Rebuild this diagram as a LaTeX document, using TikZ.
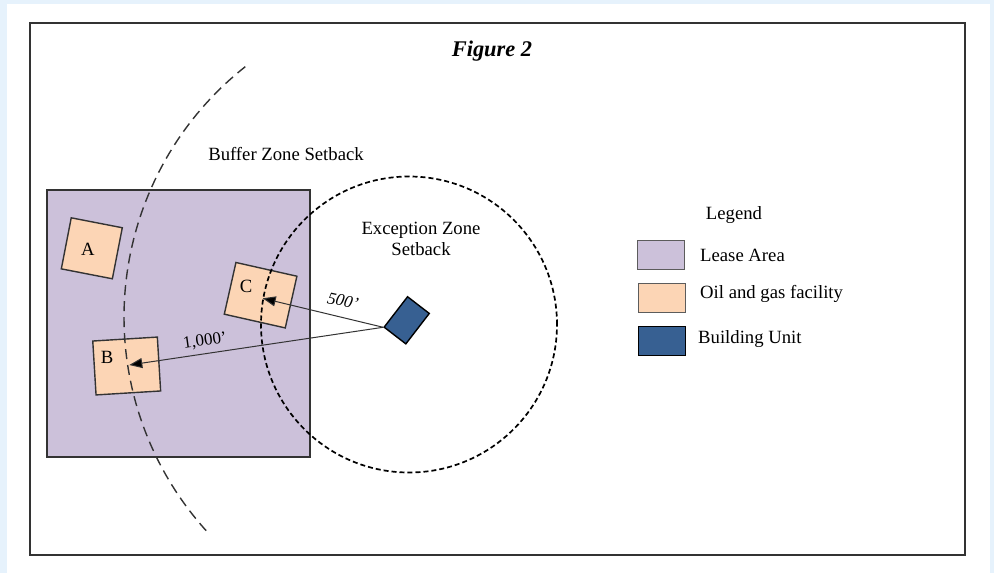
\documentclass[tikz,border=0pt]{standalone}
\usepackage{fontspec}
\setmainfont{Liberation Serif}
\usetikzlibrary{arrows.meta}
\definecolor{bgblue}{HTML}{E6F2FC}
\definecolor{leasec}{HTML}{CCC1DA}
\definecolor{facc}{HTML}{FCD5B5}
\definecolor{bldc}{HTML}{376092}
\definecolor{linec}{HTML}{333333}
\tikzset{
  txt/.style={font=\fontsize{18.7}{20.5}\selectfont, inner sep=0pt, text=black},
  facility/.style={draw=linec, line width=1.4pt, fill=facc, inner sep=0pt},
  swatch/.style={draw=linec!80, line width=1.3pt, inner sep=0pt, minimum width=47pt, minimum height=29pt},
  distarrow/.style={draw=linec, line width=1pt, -{Triangle[length=13pt,width=10pt,fill=black]}},
}
\begin{document}
\begin{tikzpicture}[x=1pt,y=-1pt]
\useasboundingbox (0,0) rectangle (994,573);
% background
\fill[bgblue] (0,0) rectangle (994,573);
\fill[white] (7,4) rectangle (990,573);
% frame
\draw[line width=1.3pt, draw=linec] (30,23) rectangle (965,555);
\node[font=\fontsize{22.4}{24}\selectfont\bfseries\itshape, inner sep=0pt] (title) at (492,51) {Figure 2};
% lease area
\node[draw=linec, line width=1.2pt, fill=leasec, minimum width=263pt, minimum height=267pt, inner sep=0pt] (lease) at (178.5,323.5) {};
% facilities
\node[facility, minimum width=52pt, minimum height=52pt, rotate=-11] (A) at (91.8,248.3) {};
\node[facility, minimum width=64.7pt, minimum height=54pt, rotate=3.5] (B) at (126.7,366) {};
\node[facility, minimum width=62.5pt, minimum height=53pt, rotate=-12.7] (C) at (260.6,295.2) {};
\node[txt] (Alab) at (88,249) {A};
\node[txt] (Blab) at (107,357) {B};
\node[txt] (Clab) at (246,286) {C};
% building unit
\node[draw=black, line width=1.4pt, fill=bldc, minimum width=27.4pt, minimum height=38.4pt, inner sep=0pt, rotate=-37.6] (bu) at (406.7,320.3) {};
% buffer zone arc
\draw[line width=1.4pt, draw=linec, dash pattern=on 10pt off 6pt] ([shift={(-128.3:319)}]443,317) arc[start angle=-128.3, end angle=-222.5, radius=319];
% exception zone circle
\node[draw=black, line width=1.7pt, dash pattern=on 5pt off 3pt, circle, minimum size=296pt, inner sep=0pt] (exc) at (409,324.5) {};
% distance arrows
\coordinate (ctip) at (262.7,298.3);
\coordinate (btip) at (129.3,365);
\draw[distarrow] (bu.south west) -- (ctip);
\draw[distarrow] (bu.south west) -- (btip);
\node[txt, font=\fontsize{17}{19}\selectfont\itshape, rotate=-12] (l500) at (343,301) {500’};
\node[txt, font=\fontsize{17}{19}\selectfont, rotate=8] (l1000) at (205,341) {1,000’};
% zone labels
\node[txt] (buffer) at (286,154) {Buffer Zone Setback};
\node[txt, align=center] (exclab) at (421,239) {Exception Zone\\Setback};
% legend
\node[txt] (legend) at (734,215) {Legend};
\node[swatch, fill=leasec] (sw1) at (660.7,254.7) {};
\node[swatch, fill=facc] (sw2) at (662,297.8) {};
\node[swatch, fill=bldc, draw=black] (sw3) at (662,341.2) {};
\node[txt, anchor=west] (lg1) at (700,255) {Lease Area};
\node[txt, anchor=west] (lg2) at (700,294) {Oil and gas facility};
\node[txt, anchor=west] (lg3) at (698,339) {Building Unit};
\end{tikzpicture}
\end{document}
